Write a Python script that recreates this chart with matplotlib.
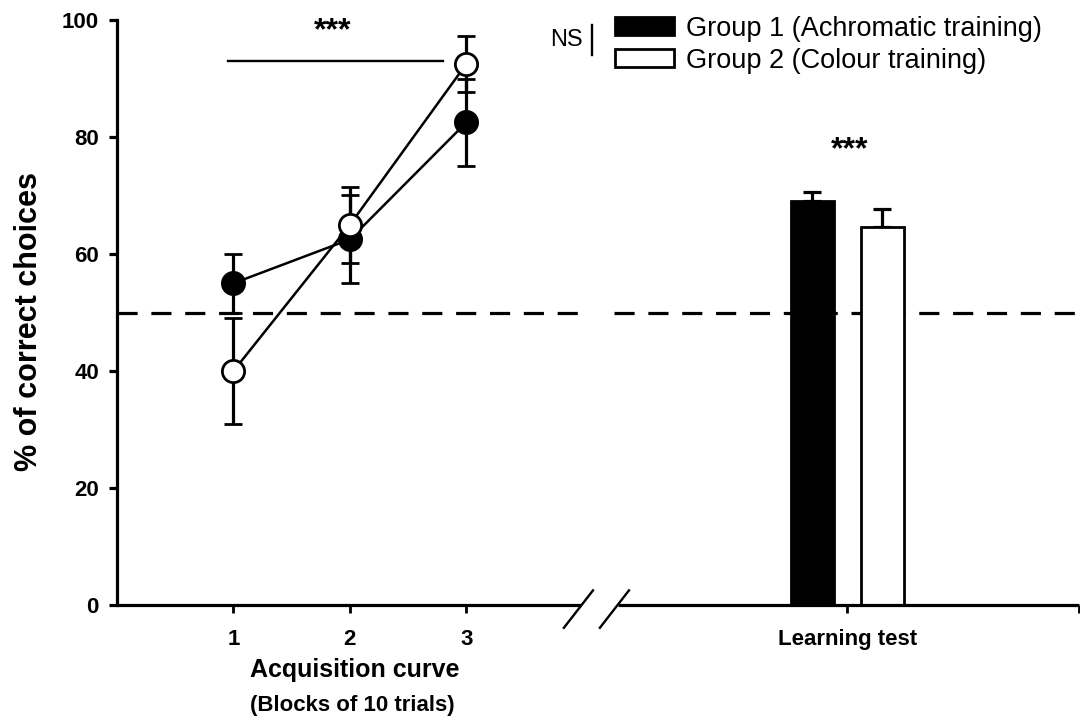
import numpy as np
import matplotlib
matplotlib.use("Agg")
import matplotlib.pyplot as plt

plt.rcParams["font.family"] = ["Liberation Sans", "DejaVu Sans"]

# ----------------- data -----------------
blocks = [1, 2, 3]
block_labels = ["1", "2", "3"]
g1_curve = [55.0, 62.5, 82.5]        # Group 1 (achromatic), filled circles
g1_curve_err = [5.0, 7.5, 7.5]
g2_curve = [40.0, 65.0, 92.5]        # Group 2 (colour), open circles
g2_curve_err = [9.0, 6.5, 4.8]

test_label = "Learning test"
g1_test = 69.0
g1_test_err = 1.6
g2_test = 64.7
g2_test_err = 3.0

chance = 50
legend_labels = ["Group 1 (Achromatic training)", "Group 2 (Colour training)"]

# ----------------- layout (data units on the x axis) -----------------
TEST_X = 6.27
BAR_OFF = 0.30
BAR_W = 0.37
X_MAX = 8.26
GAP = (3.98, 4.30)

fig = plt.figure(figsize=(10.8, 7.22), dpi=100)
ax = fig.add_axes([117 / 1080, 1 - 605 / 722, (1079 - 117) / 1080, 585 / 722])

# acquisition curve
ax.errorbar(blocks, g1_curve, yerr=g1_curve_err, color="black", lw=1.8,
            marker="o", ms=16, mfc="black", mec="black", mew=2.0,
            elinewidth=2.3, capsize=6.5, capthick=2.3, zorder=4)
ax.errorbar(blocks, g2_curve, yerr=g2_curve_err, color="black", lw=1.8,
            marker="o", ms=16, mfc="white", mec="black", mew=2.0,
            elinewidth=2.3, capsize=6.5, capthick=2.3, zorder=5)

# learning test bars
b1 = ax.bar(TEST_X - BAR_OFF, g1_test, width=BAR_W, color="black",
            edgecolor="black", lw=2.0, zorder=3, label=legend_labels[0])
b2 = ax.bar(TEST_X + BAR_OFF, g2_test, width=BAR_W, color="white",
            edgecolor="black", lw=2.0, zorder=3, label=legend_labels[1])
ax.errorbar([TEST_X - BAR_OFF, TEST_X + BAR_OFF], [g1_test, g2_test],
            yerr=[[0, 0], [g1_test_err, g2_test_err]], fmt="none",
            ecolor="black", elinewidth=2.3, capsize=6.5, capthick=2.3, zorder=2)

# chance level, broken at the axis break
for x0, x1 in [(0, GAP[0] + 0.02), (GAP[1] - 0.03, X_MAX)]:
    ax.plot([x0, x1], [chance, chance], color="black", lw=2.3,
            dashes=(6.3, 4.3), zorder=1)

# significance marks
ax.plot([0.95, 2.80], [93, 93], color="black", lw=1.7)
ax.text(1.854, 98.0, "***", ha="center", va="center", fontsize=23, fontweight="bold")
ax.text(6.29, 77.7, "***", ha="center", va="center", fontsize=23, fontweight="bold")

# axes
ax.set_xlim(0, X_MAX)
ax.set_ylim(0, 100)
ax.set_yticks([0, 20, 40, 60, 80, 100])
ax.set_xticks(blocks + [TEST_X, X_MAX])
ax.set_xticklabels(block_labels + [test_label, ""])
for s in ["top", "right", "bottom"]:
    ax.spines[s].set_visible(False)
ax.spines["left"].set_linewidth(2.3)
ax.tick_params(axis="y", length=6, width=2.3, pad=7, labelsize=16)
ax.tick_params(axis="x", length=6, width=2.0, pad=11, labelsize=16)
for lab in ax.get_xticklabels() + ax.get_yticklabels():
    lab.set_fontweight("bold")

# bottom axis in two pieces with break marks
for x0, x1 in [(0, GAP[0]), (GAP[1], X_MAX)]:
    ax.plot([x0, x1], [0, 0], color="black", lw=2.3, clip_on=False,
            solid_capstyle="butt", zorder=6)
for xs in [3.837, 4.146]:
    ax.plot([xs, xs + 0.25], [-3.9, 2.5], color="black", lw=1.7, clip_on=False)

ax.set_ylabel("% of correct choices", fontsize=22, fontweight="bold")
ax.yaxis.set_label_coords(-0.076, 0.484)
fig.text(355 / 1080, 1 - 670 / 722, "Acquisition curve", ha="center", va="center",
         fontsize=18, fontweight="bold")
fig.text(352 / 1080, 1 - 705 / 722, "(Blocks of 10 trials)", ha="center", va="center",
         fontsize=16, fontweight="bold")

# legend with NS bracket
ax.legend(handles=[b1, b2], loc="upper left", frameon=False, fontsize=19.5,
          bbox_to_anchor=(601 / 1080, 1 - 2 / 722), bbox_transform=fig.transFigure,
          borderpad=0, handlelength=2.2, handleheight=0.68, handletextpad=0.45,
          labelspacing=0.22)
fig.text(566 / 1080, 1 - 40 / 722, "NS", ha="center", va="center", fontsize=17)
fig.add_artist(plt.Line2D([592 / 1080, 592 / 1080], [1 - 25 / 722, 1 - 55 / 722],
                          color="black", lw=1.7))

fig.savefig("out.png", dpi=100)
